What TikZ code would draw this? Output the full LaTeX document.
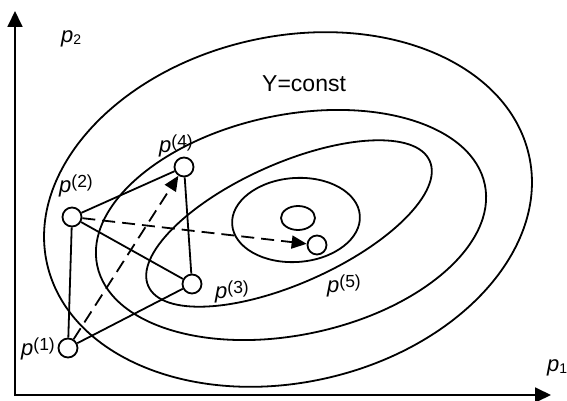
\documentclass[tikz,border=0pt]{standalone}
\usepackage{fontspec}
\setmainfont{Liberation Sans}
\usetikzlibrary{arrows.meta}
\newcommand{\plab}[1]{\textit{p}\raisebox{5pt}{\fontsize{17.5}{17.5}\selectfont(#1)}}
\begin{document}
\begin{tikzpicture}[x=1pt,y=1pt,
 curve/.style={line width=1.8pt},
 ptc/.style={circle,draw,line width=1.8pt,fill=white,minimum size=19pt,inner sep=0pt},
 lbl/.style={anchor=base west,inner sep=0pt,font=\fontsize{22}{22}\selectfont},
 dsh/.style={line width=1.8pt,dash pattern=on 13pt off 7pt,-{Triangle[length=15pt,width=13pt]}},
 ax/.style={line width=1.8pt,{Triangle[length=16pt,width=15pt]}-{Triangle[length=16pt,width=15pt]}}]
\useasboundingbox (0,0) rectangle (567,401);
\coordinate (O) at (15,6);
\coordinate (Ytip) at (15,390);
\coordinate (Xtip) at (551,6);
\draw[ax] (Ytip) -- (O) -- (Xtip);
% level curves
\draw[curve,rotate around={12.7:(288,191.5)}] (288,191.5) ellipse (247 and 173);
\draw[curve,rotate around={11.8:(291,176)}] (291,176) ellipse (198 and 110);
\draw[curve,rotate around={24:(289,177.5)}] (289,177.5) ellipse (154 and 60);
\draw[curve,rotate around={4:(296,181)}] (296,181) ellipse (64 and 42);
\draw[curve] (298,183) ellipse (17 and 12);
% points
\node[ptc] (P1) at (68,53) {};
\node[ptc] (P2) at (72,184) {};
\node[ptc] (P3) at (192,117) {};
\node[ptc] (P4) at (184,234) {};
\node[ptc] (P5) at (317,156) {};
\draw[curve] (P1) -- (P2);
\draw[curve] (P2) -- (P4);
\draw[curve] (P2) -- (P3);
\draw[curve] (P1) -- (P3);
\draw[curve] (P3) -- (P4);
\draw[dsh] (P1) -- (P4);
\draw[dsh] (P2) -- (P5);
% labels
\node[lbl] (L1) at (21,45) {\plab{1}};
\node[lbl] (L2) at (59,208) {\plab{2}};
\node[lbl] (L3) at (215,102) {\plab{3}};
\node[lbl] (L4) at (159,248) {\plab{4}};
\node[lbl] (L5) at (327,108) {\plab{5}};
\node[lbl] (Ax2) at (61,358) {\textit{p}\raisebox{-2pt}{\fontsize{14}{14}\selectfont 2}};
\node[lbl] (Ax1) at (547,29) {\textit{p}\raisebox{-2pt}{\fontsize{14}{14}\selectfont 1}};
\node[anchor=base west,inner sep=0pt,font=\fontsize{23}{23}\selectfont] (Yc) at (262,309.5) {Y=const};
\end{tikzpicture}
\end{document}
